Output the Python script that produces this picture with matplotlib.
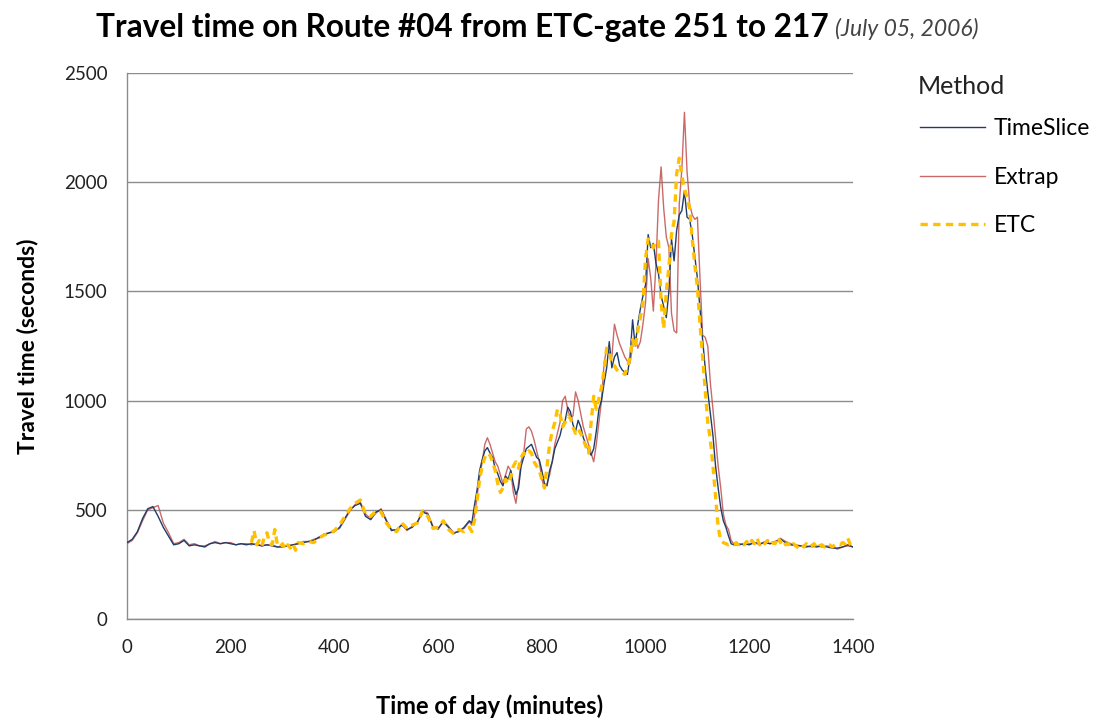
import matplotlib.pyplot as plt
import numpy as np

plt.rcParams['font.family'] = ['Lato', 'DejaVu Sans']

# ---- TimeSlice ----
ts_t = [0, 10, 20, 30, 40, 50, 60, 70, 80, 90, 100, 110, 120, 130, 140, 150, 160, 170, 180, 190,
        200, 210, 220, 230, 240, 250, 260, 270, 280, 290, 300, 310, 320, 330, 340, 350, 360, 370, 380, 390,
        400, 410, 420, 430, 440, 450, 460, 470, 480, 490, 500, 510, 520, 530, 540, 550, 560, 570, 580, 590,
        600, 610, 620, 630, 640, 650, 660,
        665, 670, 675, 680, 685, 690, 695, 700, 705, 710, 715, 720, 725, 730, 735, 740, 745, 750, 755, 760,
        765, 770, 775, 780, 785, 790, 795, 800, 805, 810, 815, 820, 825, 830, 835, 840, 845, 850, 855, 860,
        865, 870, 875, 880, 885, 890, 895, 900, 905, 910, 915, 920, 925, 930, 935, 940, 945, 950, 955, 960,
        965, 970, 975, 980, 985, 990, 995, 1000, 1005, 1010, 1015, 1020, 1025, 1030, 1035, 1040, 1045, 1050,
        1055, 1060, 1065, 1070, 1075, 1080, 1085, 1090, 1095, 1100, 1105, 1110, 1115, 1120, 1125, 1130, 1135,
        1140, 1145, 1150, 1155, 1160, 1165, 1170,
        1180, 1190, 1200, 1210, 1220, 1230, 1240, 1250, 1260, 1270, 1280, 1290, 1300, 1310, 1320, 1330,
        1340, 1350, 1360, 1370, 1380, 1390, 1400]
ts_v = [350, 365, 400, 460, 505, 515, 470, 420, 380, 340, 345, 360, 335, 340, 335, 330, 345, 350, 345, 350,
        345, 340, 345, 340, 345, 340, 335, 340, 335, 330, 330, 335, 340, 345, 350, 355, 360, 375, 385, 395,
        400, 420, 460, 500, 520, 530, 470, 455, 490, 500, 450, 405, 410, 430, 410, 420, 445, 490, 480, 420,
        415, 445, 420, 395, 400, 420, 450,
        440, 520, 590, 680, 730, 770, 785, 760, 740, 690, 665, 630, 610, 655, 640, 680, 620, 570, 600, 700,
        740, 780, 790, 800, 770, 740, 730, 680, 620, 610, 680, 720, 780, 810, 840, 890, 910, 970, 950, 890,
        860, 910, 880, 830, 800, 770, 750, 780, 860, 960, 1000, 1080, 1150, 1270, 1150, 1200, 1220, 1160, 1140, 1130,
        1120, 1200, 1370, 1250, 1350, 1420, 1480, 1530, 1760, 1700, 1720, 1630, 1580, 1480, 1430, 1380, 1500, 1740,
        1640, 1780, 1850, 1870, 1960, 1840, 1830, 1760, 1660, 1560, 1420, 1280, 1150, 1040, 940, 840, 700,
        600, 510, 450, 420, 380, 345, 340,
        340, 345, 340, 350, 345, 350, 345, 355, 365, 350, 340, 335, 335, 330, 335, 330,
        335, 330, 325, 325, 330, 340, 330]

# ---- Extrap ----
ex_t = ts_t
ex_v = [345, 360, 395, 450, 500, 510, 520, 440, 395, 345, 350, 365, 340, 345, 335, 335, 345, 355, 345, 350,
        350, 340, 345, 345, 340, 345, 335, 340, 340, 330, 335, 335, 340, 345, 355, 355, 365, 370, 390, 395,
        405, 415, 455, 495, 525, 535, 480, 460, 485, 505, 455, 410, 405, 435, 405, 425, 440, 495, 485, 425,
        410, 450, 425, 390, 405, 415, 445,
        430, 470, 560, 650, 720, 800, 830, 800, 760, 720, 700, 660, 620, 660, 700, 680, 580, 530, 620, 720,
        760, 870, 880, 860, 820, 770, 720, 640, 600, 620, 660, 720, 800, 850, 900, 1000, 1020, 960, 920, 930,
        1040, 1000, 940, 880, 840, 800, 760, 720, 800, 900, 1000, 1170, 1240, 1220, 1200, 1350, 1300, 1260, 1230, 1200,
        1180, 1170, 1250, 1290, 1240, 1270, 1350, 1450, 1650, 1560, 1410, 1620, 1920, 2070, 1880, 1750, 1700, 1400,
        1320, 1310, 1900, 2060, 2320, 2050, 1900, 1850, 1830, 1840, 1560, 1300, 1290, 1250, 1080, 960, 830,
        700, 600, 480, 430, 410, 360, 345,
        345, 340, 345, 350, 340, 355, 345, 350, 370, 355, 345, 340, 335, 335, 330, 335,
        330, 335, 330, 320, 330, 335, 330]

# ---- ETC ----
etc_t = [240, 245, 250, 255, 260, 265, 270, 275, 280, 285, 290, 295, 300, 305, 310, 315, 320, 325, 330,
         340, 350, 360, 370, 380, 390, 400, 410, 420, 430, 440, 450, 460, 470, 480, 490, 500, 510, 520, 530,
         540, 550, 560, 570, 580, 590, 600, 610, 620, 630, 640, 650, 660,
         665, 670, 675, 680, 685, 690, 695, 700, 705, 710, 715, 720, 725, 730, 735, 740, 745, 750, 755, 760,
         765, 770, 775, 780, 785, 790, 795, 800, 805, 810, 815, 820, 825, 830, 835, 840, 845, 850, 855, 860,
         865, 870, 875, 880, 885, 890, 895, 900, 905, 910, 915, 920, 925, 930, 935, 940, 945, 950, 955, 960,
         965, 970, 975, 980, 985, 990, 995, 1000, 1005, 1010, 1015, 1020, 1025, 1030, 1035, 1040, 1045, 1050,
         1055, 1060, 1065, 1070, 1075, 1080, 1085, 1090, 1095, 1100, 1105, 1110, 1115, 1120, 1125, 1130, 1135,
         1140, 1145, 1150, 1155, 1160, 1165, 1170,
         1175, 1180, 1185, 1190, 1195, 1200, 1205, 1210, 1215, 1220, 1225, 1230, 1235, 1240, 1245, 1250,
         1255, 1260, 1265, 1270, 1275, 1280, 1285, 1290, 1295, 1300, 1305, 1310, 1315, 1320, 1325, 1330,
         1335, 1340, 1345, 1350, 1355, 1360, 1365, 1370, 1375, 1380, 1385, 1390, 1395, 1400]
etc_v = [350, 405, 340, 360, 335, 375, 395, 345, 340, 410, 340, 330, 345, 320, 340, 325, 345, 315, 350,
         345, 355, 350, 370, 385, 390, 405, 430, 470, 505, 530, 545, 480, 470, 495, 490, 440, 410, 400, 440,
         415, 430, 440, 495, 470, 415, 420, 450, 410, 390, 410, 400, 420,
         400, 450, 540, 640, 700, 740, 760, 750, 720, 680, 620, 580, 600, 640, 620, 650, 700, 720, 690, 740,
         760, 750, 770, 760, 720, 700, 680, 640, 600, 700, 800, 860, 900, 960, 940, 880, 900, 930, 920, 880,
         850, 870, 850, 820, 790, 760, 900, 1020, 960, 1010, 1060, 1140, 1240, 1230, 1170, 1160, 1140, 1130, 1130, 1120,
         1150, 1200, 1280, 1240, 1320, 1380, 1450, 1650, 1740, 1720, 1700, 1730, 1730, 1450, 1330, 1500, 1610, 1760,
         1820, 2040, 2110, 2030, 1970, 1930, 1880, 1740, 1620, 1520, 1350, 1200, 1050, 900, 820, 700, 560,
         420, 360, 350, 345, 340, 345, 340,
         350, 335, 345, 340, 355, 340, 360, 345, 370, 340, 355, 345, 360, 340, 350, 345,
         375, 350, 365, 340, 345, 330, 345, 335, 325, 340, 330, 345, 330, 335, 345, 325,
         335, 340, 330, 345, 340, 330, 340, 345, 340, 350, 345, 370, 340, 320]

fig = plt.figure(figsize=(10.93, 7.19), dpi=100)
ax = fig.add_axes([0.1162, 0.139, 0.6642, 0.7595])

l1, = ax.plot(ts_t, ts_v, color='#1f3d6b', linewidth=1.0, label='TimeSlice', zorder=3)
l2, = ax.plot(ex_t, ex_v, color='#c0504d', linewidth=1.0, alpha=0.85, label='Extrap', zorder=2)
l3, = ax.plot(etc_t, etc_v, color='#ffc000', linewidth=2.4, linestyle=(0, (2.2, 1.6)), label='ETC', zorder=4)

ax.set_xlim(0, 1400)
ax.set_ylim(0, 2500)
ax.set_xticks(np.arange(0, 1401, 200))
ax.set_yticks(np.arange(0, 2501, 500))
ax.tick_params(axis='both', length=0, labelsize=13.5, colors='#222222')
ax.tick_params(axis='y', pad=14)
ax.tick_params(axis='x', pad=14)
ax.yaxis.grid(True, color='#8c8c8c', linewidth=1.0)
ax.set_axisbelow(True)
for s in ['top', 'right']:
    ax.spines[s].set_visible(False)
for s in ['left', 'bottom']:
    ax.spines[s].set_color('#8c8c8c')
    ax.spines[s].set_linewidth(1.0)

ax.set_ylabel('Travel time (seconds)', fontsize=16.5, fontweight='bold', labelpad=18)
ax.set_xlabel('Time of day (minutes)', fontsize=17, fontweight='bold', labelpad=28)

fig.text(0.0878, 0.962, 'Travel time on Route #04 from ETC-gate 251 to 217', fontsize=22.7,
         fontweight='bold', ha='left', va='center')
fig.text(0.764, 0.960, '(July 05, 2006)', fontsize=16.5, fontstyle='italic', ha='left', va='center',
         color='#444444')

# legend title drawn separately so the gap to the first entry matches
fig.text(0.840, 0.879, 'Method', fontsize=18, ha='left', va='center', color='#222222')
leg = fig.legend(handles=[l1, l2, l3], loc='upper left', bbox_to_anchor=(0.823, 0.864),
                 frameon=False, fontsize=16.5,
                 labelspacing=1.2, handlelength=2.85, handletextpad=0.35)

fig.savefig('out.png', dpi=100)
